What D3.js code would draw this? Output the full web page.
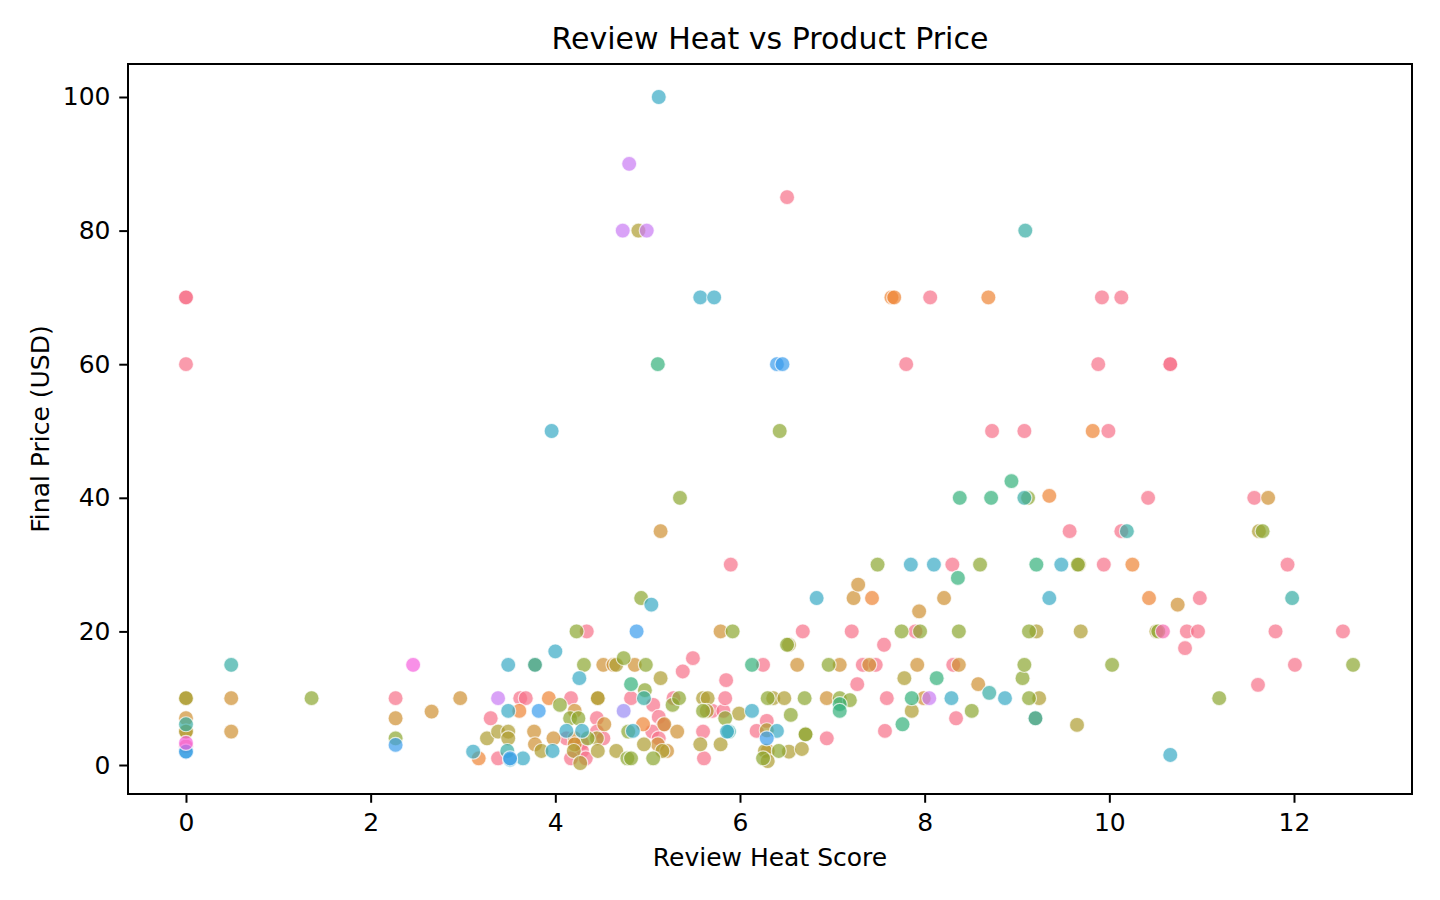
<!DOCTYPE html>
<html>
<head>
<meta charset="utf-8">
<script src="https://cdn.jsdelivr.net/npm/d3@7"></script>
<style>
  body { margin: 0; background: #fff; }
  text { font-family: "DejaVu Sans", sans-serif; fill: #000; }
</style>
</head>
<body>
<div id="chart"></div>
<script>
// points per hue group: [review heat score, final price]
const grpA = [[0,70],[0,70],[0,60],[0,2.8],[2.27,10],[3.30,7],[3.38,1],[3.62,10],[3.68,10],
  [4.17,10],[4.34,20],[4.45,7],[4.12,4],[4.29,3.3],[4.29,2.1],[4.33,1],[4.17,1],[4.45,5],[4.52,4],
  [4.82,10],[5.06,9],[5.12,7.2],[5.17,6],[5.05,5],[5.12,4],[5.28,10],[5.38,14],[5.49,16],
  [5.60,5],[5.61,1],[5.70,8.1],[5.82,8.1],[5.84,10],[5.85,12.7],[5.90,30],
  [6.18,5.1],[6.25,15],[6.29,6.6],[6.51,85],[6.68,20],[6.94,4],
  [7.21,20],[7.27,12.1],[7.33,15],[7.47,15],[7.56,18],[7.57,5.1],[7.59,10],[7.80,60],[7.90,20],
  [8.06,70],[8.30,30],[8.31,15],[8.34,7],[8.73,50],[9.08,50],
  [9.57,35],[9.88,60],[9.92,70],[9.94,30],[9.99,50],[10.13,70],[10.13,35],[10.42,40],
  [10.66,60],[10.66,60],[10.82,17.5],[10.84,20],[10.96,20],[10.98,25],[11.57,40],[11.61,12],
  [11.80,20],[11.93,30],[12.01,15],[12.53,20]];
const grpB = [[3.17,1],[3.61,8.1],[3.93,10],[4.95,6.1],[7.43,25],[7.64,70],[7.67,70],[8.69,70],
  [9.35,40.3],[9.82,50],[10.25,30],[10.43,25]];
const grpC = [[0,7],[0,5],[0.49,10],[0.49,5],[2.27,7],[2.66,8],[2.97,10],
  [3.77,5],[3.78,3.1],[3.98,4],[4.21,8.1],[4.21,4],[4.21,3.1],[4.52,15],[4.63,15],[4.53,6.1],[4.86,15],[4.46,10],
  [5.11,3.1],[5.14,35],[5.18,6.1],[5.21,2.1],[5.32,5],[5.79,20],
  [6.30,2.1],[6.62,15],[6.94,10],[7.08,15],[7.23,25],[7.28,27],[7.40,15],[7.92,15],[7.94,23],[7.99,10],
  [8.21,25],[8.37,15],[8.58,12.1],[10.74,24],[11.72,40]];
const grpD = [[0,10],[0,10],[0,5],[3.26,4],[3.38,5],[3.49,5],[3.49,4],[3.78,15],[3.85,2.1],
  [4.20,2.1],[4.27,0.3],[4.46,10],[4.45,4],[4.46,2.1],[4.66,15],[4.66,2.1],[4.90,80],[4.96,3.1],[5.14,13],[5.16,2.1],
  [5.57,3.1],[5.60,10],[5.65,10],[5.64,8.1],[5.79,3.1],[5.99,7.7],
  [6.27,2.1],[6.30,0.6],[6.29,5.2],[6.36,10],[6.48,10],[6.53,18],[6.53,2],[6.67,2.4],[6.71,4.6],
  [7.78,13],[7.86,8.1],[9.21,20],[9.24,10],[9.20,7],[9.65,6],[9.67,30],[9.69,20],[10.51,20],[11.62,35]];
const grpE = [[1.36,10],[2.27,4],[4.05,9],[4.16,7],[4.25,7],[4.23,20],[4.31,15],[4.35,4],[4.74,16],[4.78,1],
  [4.82,1],[4.79,5],[4.93,25],[4.97,11.2],[4.98,15],[5.06,1],[5.27,9],[5.34,10],[5.35,40],
  [5.60,8.1],[5.84,7],[5.92,20],[6.25,1],[6.30,10],[6.42,2.1],[6.43,50],[6.51,18],[6.55,7.5],[6.70,10],
  [6.71,4.6],[7.08,10],[7.19,9.7],[6.96,15],[7.49,30],[7.75,20],[7.95,20],[8.37,20],[8.51,8.1],[8.60,30],
  [9.06,13],[9.08,15],[9.13,20],[9.13,10],[9.12,40],[9.66,30],[10.03,15],[10.53,20],[11.19,10],[11.66,35],[12.64,15]];
const grpF = [[4.82,12.1],[5.11,60],[6.13,15],[7.08,9.1],[7.08,8.1],[7.76,6.1],[7.86,10],[8.13,13],
  [8.36,28],[8.38,40],[8.72,40],[8.94,42.5],[9.21,30]];
const grpG = [[0,6.1],[0.49,15],[3.48,2.1],[3.78,15],[4.96,10],[5.88,5],[8.70,10.8],[9.08,40],[9.09,80],
  [9.20,7],[10.19,35],[11.98,25]];
const grpH = [[0,2],[3.11,2],[3.49,15],[3.49,8.1],[3.65,1],[3.51,0.8],[3.96,50],[3.97,2.1],[4.0,17],[4.12,5.1],
  [4.26,13],[4.29,5.1],[4.84,5.1],[5.04,24],[5.12,100],[5.57,70],[5.72,70],[5.86,5],[6.13,8.1],[6.40,5.1],
  [6.83,25],[7.85,30],[8.10,30],[8.29,10],[8.87,10],[9.35,25],[9.48,30],[10.66,1.5]];
const grpI = [[0,2],[2.27,3],[3.82,8.1],[3.51,1],[4.88,20],[6.29,4],[6.40,60],[6.46,60]];
const grpJ = [[4.74,8.1]];
const grpK = [[3.38,10],[4.73,80],[4.80,90],[4.99,80],[8.05,10]];
const grpL = [[0,3.3],[2.46,15]];
const grpM = [[10.58,20]];

const groupNames = ["A","B","C","D","E","F","G","H","I","J","K","L","M"];
const groupPts = [grpA,grpB,grpC,grpD,grpE,grpF,grpG,grpH,grpI,grpJ,grpK,grpL,grpM];
const hueColors = ["#f77189","#ee8435","#ce9032","#ae9d31","#8ca630","#33b07a","#36ada4",
  "#38a9c5","#3b9ded","#9a8cf4","#c97af4","#f561dd","#f668b0"];

const xTicks = [0,2,4,6,8,10,12];
const yTicks = [0,20,40,60,80,100];

const width = 1440, height = 900;
const margin = {top: 64, right: 28, bottom: 106, left: 128};

let svg = d3.select("#chart").append("svg")
  .attr("width", width)
  .attr("height", height);

let x = d3.scaleLinear().domain([-0.628, 13.278]).range([margin.left, width - margin.right]);
let y = d3.scaleLinear().domain([-4.34, 104.94]).range([height - margin.bottom, margin.top]);
let color = d3.scaleOrdinal().domain(groupNames).range(hueColors);

// flatten into rows for drawing
let rows = [];
groupPts.forEach((pts, i) => pts.forEach(p => rows.push({score: p[0], price: p[1], grp: groupNames[i]})));

svg.append("g").selectAll("circle")
  .data(rows)
  .enter()
  .append("circle")
  .attr("cx", d => x(d.score))
  .attr("cy", d => y(d.price))
  .attr("r", 7.5)
  .attr("fill", d => color(d.grp))
  .attr("fill-opacity", 0.7)
  .attr("stroke", "#fff")
  .attr("stroke-opacity", 0.7)
  .attr("stroke-width", 1.2);

// axes
let xAxis = svg.append("g")
  .attr("transform", `translate(0,${height - margin.bottom})`)
  .call(d3.axisBottom(x).tickValues(xTicks).tickSize(8.75).tickPadding(10.5).tickFormat(d3.format("d")));
let yAxis = svg.append("g")
  .attr("transform", `translate(${margin.left},0)`)
  .call(d3.axisLeft(y).tickValues(yTicks).tickSize(8.75).tickPadding(8.75).tickFormat(d3.format("d")));

[xAxis, yAxis].forEach(a => {
  a.select(".domain").remove();
  a.selectAll(".tick line").attr("stroke", "#000").attr("stroke-width", 2);
  a.selectAll(".tick text").style("font-family", "DejaVu Sans").style("font-size", "25px").attr("fill", "#000");
});

// frame
svg.append("rect")
  .attr("x", margin.left)
  .attr("y", margin.top)
  .attr("width", width - margin.left - margin.right)
  .attr("height", height - margin.top - margin.bottom)
  .attr("fill", "none")
  .attr("stroke", "#000")
  .attr("stroke-width", 2);

// labels
svg.append("text")
  .attr("x", (margin.left + width - margin.right) / 2)
  .attr("y", 866)
  .style("text-anchor", "middle")
  .style("font-size", "25px")
  .text("Review Heat Score");

svg.append("text")
  .attr("transform", `translate(49,${(margin.top + height - margin.bottom) / 2}) rotate(-90)`)
  .style("text-anchor", "middle")
  .style("font-size", "25px")
  .text("Final Price (USD)");

svg.append("text")
  .attr("x", (margin.left + width - margin.right) / 2)
  .attr("y", 49)
  .style("text-anchor", "middle")
  .style("font-size", "30px")
  .text("Review Heat vs Product Price");
</script>
</body>
</html>
